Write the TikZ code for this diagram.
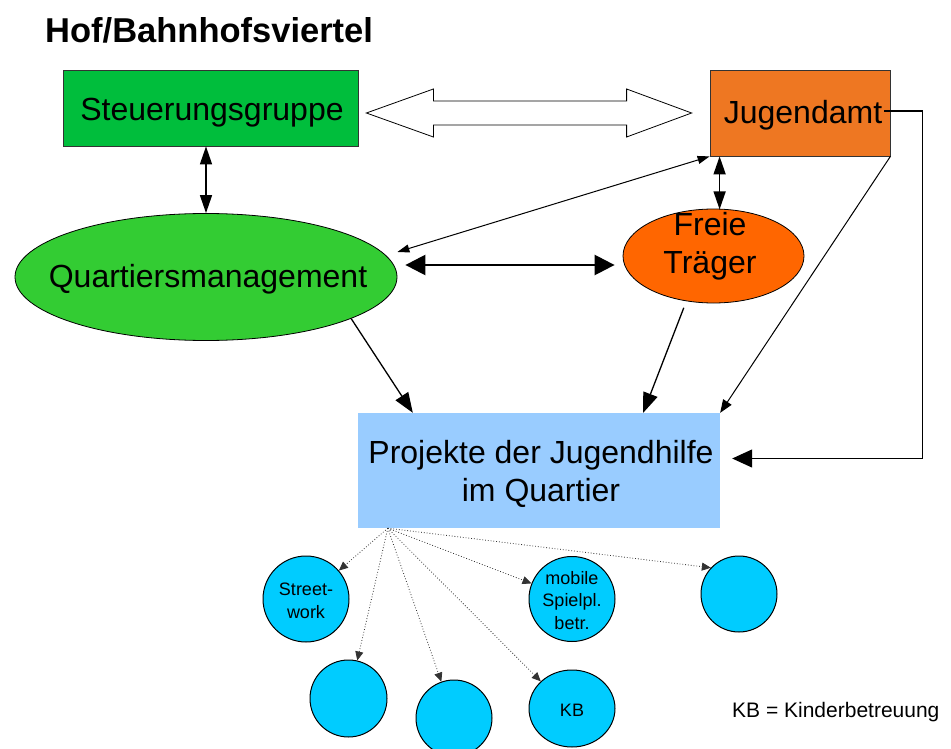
\documentclass[tikz,border=0pt]{standalone}
\usepackage{fontspec}
\setmainfont{Liberation Sans}
\usetikzlibrary{arrows.meta,shapes.geometric,calc}
\definecolor{sgGreen}{RGB}{0,190,60}
\definecolor{qmGreen}{RGB}{51,204,51}
\definecolor{jaOrange}{RGB}{238,119,34}
\definecolor{ftOrange}{RGB}{255,102,0}
\definecolor{prBlue}{RGB}{153,204,255}
\definecolor{cBlue}{RGB}{0,204,255}
\tikzset{
  bigfont/.style={font=\fontsize{32}{37.5}\selectfont},
  smallfont/.style={font=\fontsize{18}{22.5}\selectfont},
  lbl/.style={anchor=base, align=center, inner sep=0pt},
  box/.style={draw=black!80, line width=0.8pt, inner sep=0pt},
  ell/.style={ellipse, draw=black, line width=0.8pt, inner sep=0pt},
  circ/.style={ellipse, draw=black, line width=1pt, fill=cBlue, inner sep=0pt},
  dblarr/.style={line width=1.5pt, {Triangle[length=18pt,width=12pt]}-{Triangle[length=18pt,width=12pt]}},
  thickarr/.style={line width=2.5pt, {Triangle[length=20pt,width=20pt]}-{Triangle[length=20pt,width=20pt]}},
  thinarr/.style={line width=1pt, {Triangle[length=12pt,width=8pt]}-{Triangle[length=12pt,width=8pt]}},
  onearr/.style={line width=1.3pt, -{Triangle[length=20pt,width=15pt]}},
  slimarr/.style={line width=1pt, -{Triangle[length=13pt,width=10pt]}},
  rarr/.style={line width=1.3pt, -{Triangle[length=20pt,width=18pt]}},
  dotarr/.style={line width=0.8pt, dotted, black!80, -{Triangle[length=9pt,width=8pt]}},
}
\begin{document}
\begin{tikzpicture}[x=1pt,y=-1pt]
\useasboundingbox (0,0) rectangle (951,749);

\node[anchor=base west, inner sep=0pt, font=\fontsize{34.5}{40}\selectfont\bfseries] (title) at (45,43) {Hof/Bahnhofsviertel};

\node[box, fill=sgGreen, minimum width=295pt, minimum height=76pt] (sg) at (210.5,108) {};
\node[lbl, bigfont] (sgt) at (212,121) {Steuerungsgruppe};
\node[box, fill=jaOrange, minimum width=180pt, minimum height=86pt] (ja) at (800,113) {};
\node[lbl, bigfont] (jat) at (803,124) {Jugendamt};
\node[ell, fill=qmGreen, minimum width=382pt, minimum height=127pt] (qm) at (206,277) {};
\node[lbl, bigfont] (qmt) at (208,287) {Quartiersmanagement};
\node[ell, fill=ftOrange, minimum width=181pt, minimum height=94pt] (ft) at (713.5,256) {};
\node[lbl, bigfont] (ftt) at (710,273) {Freie\\Träger};
\node[fill=prBlue, inner sep=0pt, minimum width=362pt, minimum height=115pt] (pr) at (539,470.5) {};
\node[lbl, bigfont] (prt) at (541,501) {Projekte der Jugendhilfe\\im Quartier};

% circles
\node[circ, minimum width=86pt, minimum height=86pt] (c1) at (306,599) {};
\node[lbl, smallfont] (c1t) at (306,618) {Street-\\work};
\node[circ, minimum width=77pt, minimum height=77pt] (c2) at (348.5,698.5) {};
\node[circ, minimum width=76pt, minimum height=76pt] (c3) at (454,718) {};
\node[circ, minimum width=86pt, minimum height=77pt] (c4) at (572,708.5) {};
\node[lbl, smallfont] (c4t) at (572,716) {KB};
\node[circ, minimum width=86pt, minimum height=85pt] (c5) at (572,599) {};
\node[lbl, smallfont] (c5t) at (572,629) {mobile\\Spielpl.\\betr.};
\node[circ, minimum width=76pt, minimum height=76pt] (c6) at (739,594) {};

\node[anchor=base west, inner sep=0pt, font=\fontsize{21}{25}\selectfont] (legend) at (732,717) {KB = Kinderbetreuung};

% big hollow double arrow
\coordinate (L) at ($(sg.east)+(8,5)$);
\coordinate (R) at ($(ja.west)+(-18,0)$);
\draw[line width=0.8pt, fill=white] (L) -- ++(67,-24) -- ++(0,12) -- ($(R)+(-65,-12)$) -- ++(0,-12) -- (R)
  -- ++(-65,24) -- ++(0,-12) -- ($(L)+(67,12)$) -- ++(0,12) -- cycle;

% connectors
\draw[dblarr] (sg.south -| qm.north) -- (qm.north);
\draw[dblarr] ($(ja.south west)+(10,0)$) -- ($(ja.south west)+(10,53)$);
\draw[thinarr] ($(qm.east)+(0,-25)$) -- (ja.south west);
\draw[thickarr] ($(qm.east)+(8,-12)$) -- ($(ft.west)+(-8,9)$);
\draw[onearr] (qm.-16) -- ($(pr.north west)+(55,0)$);
\draw[onearr, shorten <=7pt] (ft.-121) -- ($(pr.north east)+(-77,0)$);
\draw[slimarr] (ja.south east) -- (pr.north east);
\draw[rarr] ($(ja.east)+(-6,-2)$) -- ++(38,0) |- ($(pr.east)+(12,-12)$);

% dotted arrows
\coordinate (o) at ($(pr.south west)+(30,0)$);
\draw[dotarr] (o) -- (c1);
\draw[dotarr] (o) -- (c2);
\draw[dotarr] (o) -- (c3);
\draw[dotarr] (o) -- (c4.139);
\draw[dotarr] (o) -- (c5);
\draw[dotarr] (o) -- (c6.137);
\end{tikzpicture}
\end{document}
